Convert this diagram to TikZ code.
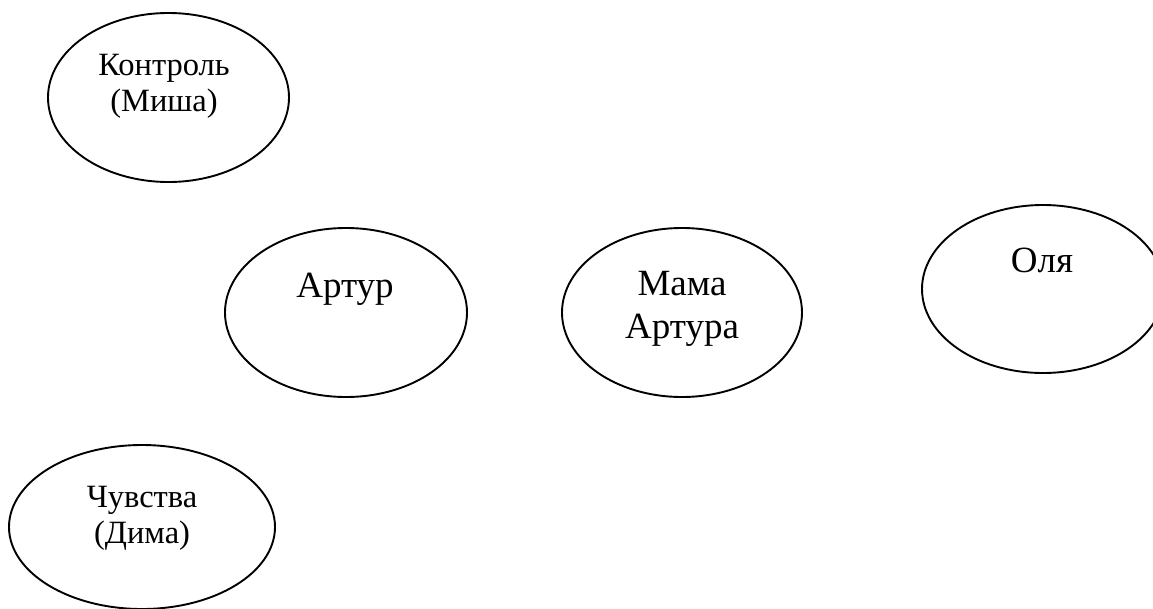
\documentclass[tikz,border=0pt]{standalone}
\usepackage{fontspec}
\setmainfont{Liberation Serif}
\usetikzlibrary{shapes.geometric}
\tikzset{
  oval/.style={draw=black, line width=1.9pt, ellipse, inner sep=0pt, outer sep=0pt},
  bigtxt/.style={font=\fontsize{37}{43}\selectfont, align=center, anchor=base, inner sep=0pt},
  smalltxt/.style={font=\fontsize{32.5}{36}\selectfont, align=center, anchor=base, inner sep=0pt}
}
\begin{document}
\begin{tikzpicture}[x=1pt,y=-1pt]
\useasboundingbox (0,0) rectangle (1153,608);
\clip (0,0) rectangle (1153,608);
\fill[white] (0,0) rectangle (1153,608);
\node[oval, minimum width=241pt, minimum height=169pt] (kontrol) at (168.5,97.5) {};
\node[oval, minimum width=242pt, minimum height=169pt] (artur) at (346,312.5) {};
\node[oval, minimum width=240pt, minimum height=169pt] (mama) at (682,312.5) {};
\node[oval, minimum width=242pt, minimum height=168pt] (olya) at (1043,289) {};
\node[oval, minimum width=266pt, minimum height=164pt] (dima) at (142,527) {};
\node[smalltxt] (kontrolT) at (164,111) {Контроль\\(Миша)};
\node[bigtxt] (arturT) at (345,297) {Артур};
\node[bigtxt] (mamaT) at (682,338) {Мама\\Артура};
\node[bigtxt] (olyaT) at (1042,272) {Оля};
\node[smalltxt] (dimaT) at (142,543) {Чувства\\(Дима)};
\end{tikzpicture}
\end{document}
